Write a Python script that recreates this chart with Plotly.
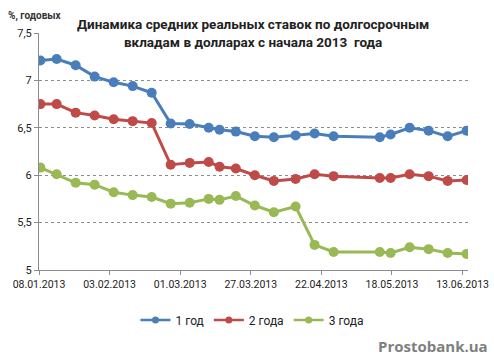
import pandas as pd
import plotly.graph_objects as go

dates = ["2013-01-08", "2013-01-14", "2013-01-21", "2013-01-28", "2013-02-04", "2013-02-11",
         "2013-02-18", "2013-02-25", "2013-03-04", "2013-03-11", "2013-03-15", "2013-03-21",
         "2013-03-28", "2013-04-04", "2013-04-12", "2013-04-19", "2013-04-26", "2013-05-13",
         "2013-05-17", "2013-05-24", "2013-05-31", "2013-06-07", "2013-06-14"]
rate_1y = [7.21, 7.225, 7.16, 7.04, 6.98, 6.94, 6.87, 6.545, 6.54, 6.50, 6.48, 6.46,
           6.41, 6.40, 6.42, 6.44, 6.41, 6.40, 6.43, 6.50, 6.47, 6.41, 6.47]
rate_2y = [6.75, 6.75, 6.66, 6.63, 6.59, 6.57, 6.55, 6.11, 6.13, 6.14, 6.09, 6.07,
           6.00, 5.94, 5.96, 6.01, 5.99, 5.97, 5.97, 6.01, 5.99, 5.94, 5.95]
rate_3y = [6.08, 6.01, 5.92, 5.90, 5.82, 5.79, 5.77, 5.70, 5.71, 5.75, 5.74, 5.78,
           5.68, 5.61, 5.67, 5.265, 5.19, 5.19, 5.18, 5.24, 5.22, 5.18, 5.17]
series_names = ["1 год", "2 года", "3 года"]
colors = ["#4A7EBB", "#BE4B48", "#98B954"]

# Excel date axis places each point in the middle of its day slot
x = pd.to_datetime(dates) + pd.Timedelta(hours=12)

W, H = 494, 360
ML, MR, MT, MB = 39, 26, 33, 90
pw, ph = W - ML - MR, H - MT - MB
def px(xp): return (xp - ML) / pw
def py(yp): return (H - MB - yp) / ph

fig = go.Figure()
for name, vals, col in zip(series_names, [rate_1y, rate_2y, rate_3y], colors):
    fig.add_trace(go.Scatter(
        x=x, y=vals, name=name, mode="lines+markers",
        line=dict(color=col, width=3),
        marker=dict(color=col, size=10),
        showlegend=False,
    ))
# legend entries with smaller symbols, as in the original legend
for name, col in zip(series_names, colors):
    fig.add_trace(go.Scatter(
        x=[None], y=[None], name=name, mode="lines+markers",
        line=dict(color=col, width=2.5),
        marker=dict(color=col, size=7),
        showlegend=True,
    ))

font = "Roboto, Open Sans, sans-serif"
fig.update_layout(
    width=W, height=H,
    margin=dict(l=ML, r=MR, t=MT, b=MB, autoexpand=False),
    paper_bgcolor="white", plot_bgcolor="white",
    separators=", ",
    font=dict(family=font, size=11, color="#222"),
    showlegend=True,
    legend=dict(orientation="h", x=px(252), xanchor="center", y=py(320), yanchor="middle",
                font=dict(size=12, color="#222"), itemwidth=30, tracegroupgap=0),
    xaxis=dict(
        type="date", range=["2013-01-08", "2013-06-15"],
        tick0="2013-01-08", dtick=26 * 86400000, tickformat="%d.%m.%Y",
        showgrid=False, showline=True, linecolor="#8C8C8C", linewidth=1,
        ticks="outside", ticklen=4, tickcolor="#8C8C8C",
        tickfont=dict(size=10.5, color="#222"), zeroline=False, automargin=False,
    ),
    yaxis=dict(
        range=[5, 7.5], dtick=0.5, tick0=5,
        showgrid=True, gridcolor="#8C8C8C", griddash="dot", gridwidth=1,
        showline=True, linecolor="#8C8C8C", linewidth=1,
        ticks="outside", ticklen=4, tickcolor="#8C8C8C",
        tickfont=dict(size=11, color="#222"), zeroline=False, automargin=False,
    ),
    annotations=[
        dict(text="<b>Динамика средних реальных ставок по долгосрочным<br>вкладам в долларах с начала 2013  года</b>",
             x=px(253), y=py(33), xref="paper", yref="paper", showarrow=False,
             xanchor="center", yanchor="middle",
             font=dict(size=13.5, color="#222", family=font)),
        dict(text="<b>%, годовых</b>", x=px(6), y=py(16), xref="paper", yref="paper",
             xanchor="left", yanchor="middle",
             showarrow=False, font=dict(size=10, color="#333", family=font)),
        dict(text="<b>Prostobank.ua</b>", x=px(490), y=py(346), xref="paper", yref="paper",
             xanchor="right", yanchor="middle",
             showarrow=False, font=dict(size=15, color="#7F7F7F", family="Open Sans, sans-serif")),
    ],
)

fig.write_html("out.html", config={"displayModeBar": False},
               post_script="document.body.style.margin='0';document.body.style.overflow='hidden';")
